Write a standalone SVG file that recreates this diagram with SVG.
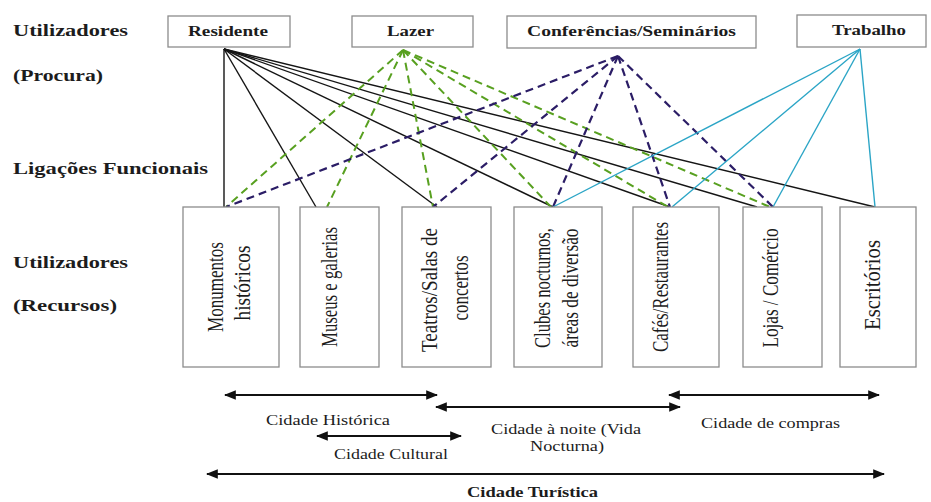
<svg xmlns="http://www.w3.org/2000/svg" width="931" height="502" viewBox="0 0 931 502">
<style>
.bg{fill:#fff}
.box{fill:#fff;stroke:#8c8c8c;stroke-width:1.3}
.lbl{font-family:"Liberation Serif",serif;font-weight:bold;font-size:16.5px;fill:#1c1c1c}
.top{font-family:"Liberation Serif",serif;font-weight:bold;font-size:15px;fill:#1c1c1c;text-anchor:middle}
.rot{font-family:"Liberation Serif",serif;font-size:22.5px;fill:#1c1c1c;text-anchor:middle}
.bt{font-family:"Liberation Serif",serif;font-size:15px;fill:#1c1c1c}
.btb{font-family:"Liberation Serif",serif;font-size:15px;font-weight:bold;fill:#1c1c1c}
.k{stroke:#151515;stroke-width:1.4;fill:none}
.g{stroke:#58a020;stroke-width:2;stroke-dasharray:8 5;fill:none}
.p{stroke:#2b1d66;stroke-width:2.2;stroke-dasharray:8 5;fill:none}
.c{stroke:#2ba5c6;stroke-width:1.4;fill:none}
.ar{stroke:#111;stroke-width:2;fill:none;marker-start:url(#ah);marker-end:url(#ah)}
</style>
<defs>
<marker id="ah" viewBox="0 0 10 8" refX="9" refY="4" markerWidth="6" markerHeight="4.8" orient="auto-start-reverse">
<path d="M0,0 L10,4 L0,8 Z" fill="#111"/>
</marker>
</defs>
<rect class="bg" x="0" y="0" width="931" height="502"/>

<g id="left-labels">
<text class="lbl" x="13" y="36" textLength="115" lengthAdjust="spacingAndGlyphs">Utilizadores</text>
<text class="lbl" x="13" y="81" textLength="90" lengthAdjust="spacingAndGlyphs">(Procura)</text>
<text class="lbl" x="13" y="174" textLength="195" lengthAdjust="spacingAndGlyphs">Ligações Funcionais</text>
<text class="lbl" x="13" y="268" textLength="115" lengthAdjust="spacingAndGlyphs">Utilizadores</text>
<text class="lbl" x="13" y="311" textLength="104" lengthAdjust="spacingAndGlyphs">(Recursos)</text>
</g>

<g id="connectors">
<line class="k" x1="224" y1="49" x2="224" y2="207"/>
<line class="k" x1="224" y1="49" x2="316" y2="207"/>
<line class="k" x1="224" y1="49" x2="437" y2="207"/>
<line class="k" x1="224" y1="49" x2="553" y2="207"/>
<line class="k" x1="224" y1="49" x2="670" y2="207"/>
<line class="k" x1="224" y1="49" x2="757" y2="207"/>
<line class="k" x1="224" y1="49" x2="875" y2="207"/>

<line class="g" x1="403" y1="50" x2="226" y2="207"/>
<line class="g" x1="403" y1="50" x2="327" y2="207"/>
<line class="g" x1="403" y1="50" x2="433" y2="207"/>
<line class="g" x1="403" y1="50" x2="551" y2="207"/>
<line class="g" x1="403" y1="50" x2="668" y2="207"/>
<line class="g" x1="403" y1="50" x2="770" y2="207"/>

<line class="p" x1="618" y1="56" x2="226" y2="207"/>
<line class="p" x1="618" y1="56" x2="433" y2="207"/>
<line class="p" x1="618" y1="56" x2="553" y2="207"/>
<line class="p" x1="618" y1="56" x2="670" y2="207"/>
<line class="p" x1="618" y1="56" x2="773" y2="207"/>

<line class="c" x1="860" y1="49" x2="553" y2="207"/>
<line class="c" x1="860" y1="49" x2="672" y2="207"/>
<line class="c" x1="860" y1="49" x2="773" y2="207"/>
<line class="c" x1="860" y1="49" x2="875" y2="207"/>
</g>

<g id="residente">
<rect class="box" x="168" y="16" width="122" height="31"/>
<text class="top" x="228" y="36" textLength="80" lengthAdjust="spacingAndGlyphs">Residente</text>
</g>
<g id="lazer">
<rect class="box" x="352" y="16" width="121" height="31"/>
<text class="top" x="410.5" y="36" textLength="47" lengthAdjust="spacingAndGlyphs">Lazer</text>
</g>
<g id="conferencias">
<rect class="box" x="507" y="16" width="249" height="32"/>
<text class="top" x="631.5" y="36" textLength="209" lengthAdjust="spacingAndGlyphs">Conferências/Seminários</text>
</g>
<g id="trabalho">
<rect class="box" x="797" y="15" width="129" height="32"/>
<text class="top" x="869" y="35" textLength="74" lengthAdjust="spacingAndGlyphs">Trabalho</text>
</g>

<g id="monumentos">
<rect class="box" x="183" y="207" width="96" height="160"/>
<text class="rot" transform="translate(223,287) rotate(-90)" textLength="90" lengthAdjust="spacingAndGlyphs">Monumentos</text>
<text class="rot" transform="translate(250,283) rotate(-90)" textLength="75" lengthAdjust="spacingAndGlyphs">históricos</text>
</g>
<g id="museus">
<rect class="box" x="300" y="207" width="79" height="160"/>
<text class="rot" transform="translate(337,287) rotate(-90)" textLength="120" lengthAdjust="spacingAndGlyphs">Museus e galerias</text>
</g>
<g id="teatros">
<rect class="box" x="402" y="207" width="89" height="160"/>
<text class="rot" transform="translate(437,290) rotate(-90)" textLength="124" lengthAdjust="spacingAndGlyphs">Teatros/Salas de</text>
<text class="rot" transform="translate(468,288) rotate(-90)" textLength="65" lengthAdjust="spacingAndGlyphs">concertos</text>
</g>
<g id="clubes">
<rect class="box" x="514" y="207" width="88" height="160"/>
<text class="rot" transform="translate(550,288) rotate(-90)" textLength="120" lengthAdjust="spacingAndGlyphs">Clubes nocturnos,</text>
<text class="rot" transform="translate(578,288) rotate(-90)" textLength="119" lengthAdjust="spacingAndGlyphs">áreas de diversão</text>
</g>
<g id="cafes">
<rect class="box" x="633" y="207" width="86" height="160"/>
<text class="rot" transform="translate(668,287) rotate(-90)" textLength="130" lengthAdjust="spacingAndGlyphs">Cafés/Restaurantes</text>
</g>
<g id="lojas">
<rect class="box" x="743" y="207" width="79" height="160"/>
<text class="rot" transform="translate(778,288) rotate(-90)" textLength="119" lengthAdjust="spacingAndGlyphs">Lojas / Comércio</text>
</g>
<g id="escritorios">
<rect class="box" x="840" y="207" width="76" height="160"/>
<text class="rot" transform="translate(880,285) rotate(-90)" textLength="90" lengthAdjust="spacingAndGlyphs">Escritórios</text>
</g>

<g id="ranges">
<line class="ar" x1="225" y1="395" x2="437" y2="395"/>
<line class="ar" x1="436" y1="407" x2="680" y2="407"/>
<line class="ar" x1="669" y1="395" x2="879" y2="395"/>
<line class="ar" x1="317" y1="436" x2="461" y2="436"/>
<line class="ar" x1="207" y1="474" x2="884" y2="474"/>
<text class="bt" x="266" y="425" textLength="124" lengthAdjust="spacingAndGlyphs">Cidade Histórica</text>
<text class="bt" x="491" y="434" textLength="150" lengthAdjust="spacingAndGlyphs">Cidade à noite (Vida</text>
<text class="bt" x="530" y="451" textLength="74" lengthAdjust="spacingAndGlyphs">Nocturna)</text>
<text class="bt" x="701" y="428" textLength="139" lengthAdjust="spacingAndGlyphs">Cidade de compras</text>
<text class="bt" x="334" y="459" textLength="114" lengthAdjust="spacingAndGlyphs">Cidade Cultural</text>
<text class="btb" x="467" y="497" textLength="131" lengthAdjust="spacingAndGlyphs">Cidade Turística</text>
</g>
</svg>
